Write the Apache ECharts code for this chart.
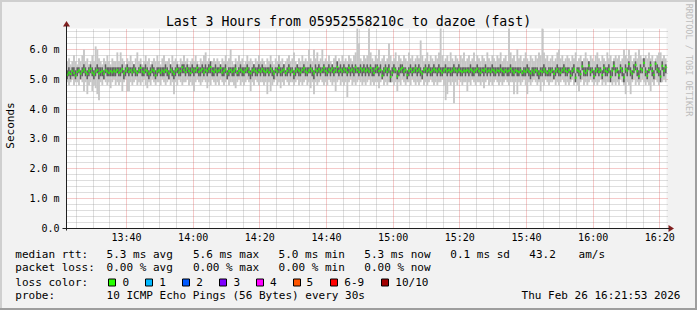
<!DOCTYPE html>
<html><head><meta charset="utf-8">
<script src="https://cdn.jsdelivr.net/npm/echarts@6/dist/echarts.min.js"></script>
<style>html,body{margin:0;padding:0;background:#f2f2f2;}#c{width:697px;height:310px;}</style>
</head><body><div id="c"></div>
<script>
// ---------- data ----------
const titleText = 'Last 3 Hours from 05952558210c to dazoe (fast)';
const startTime = '13:22';
const endTime = '16:22';
const stepMin = 0.5; // 30 s samples
const xTickLabels = ['13:40','14:00','14:20','14:40','15:00','15:20','15:40','16:00','16:20'];
const yTickValues = [0,1,2,3,4,5,6];
const yMax = 6.7;

const medianRtt = [
5.15,5.22,5.18,5.28,5.21,5.12,5.25,5.30,5.19,5.27,5.33,5.24,5.18,5.29,5.35,5.22,5.16,5.26,5.31,5.20,5.24,5.28,5.19,5.30,5.26,5.21,5.27,5.23,5.29,5.25,
5.31,5.22,5.27,5.34,5.20,5.28,5.36,5.25,5.30,5.23,5.33,5.27,5.21,5.30,5.38,5.26,5.22,5.31,5.27,5.19,5.24,5.32,5.28,5.13,5.26,5.30,5.22,5.29,5.25,5.31,
5.27,5.20,5.32,5.25,5.18,5.29,5.34,5.22,5.27,5.40,5.31,5.24,5.36,5.28,5.21,5.33,5.26,5.30,5.38,5.25,5.29,5.34,5.22,5.31,5.27,5.35,5.41,5.28,5.24,5.32,
5.26,5.30,5.37,5.22,5.28,5.33,5.19,5.27,5.31,5.24,5.29,5.35,5.21,5.28,5.32,5.26,5.23,5.30,5.36,5.25,5.20,5.29,5.33,5.27,5.22,5.31,5.26,5.34,5.28,5.24,
5.30,5.23,5.35,5.27,5.19,5.31,5.26,5.38,5.24,5.29,5.33,5.21,5.28,5.36,5.25,5.30,5.18,5.27,5.34,5.29,5.23,5.31,5.37,5.26,5.22,5.30,5.35,5.28,5.20,5.32,
5.27,5.34,5.25,5.31,5.39,5.28,5.22,5.33,5.29,5.36,5.24,5.30,5.41,5.27,5.32,5.26,5.35,5.30,5.23,5.38,5.29,5.33,5.26,5.40,5.31,5.25,5.36,5.29,5.34,5.27,
5.32,5.26,5.38,5.29,5.21,5.34,5.40,5.27,5.31,5.12,5.29,5.36,5.25,5.33,5.08,5.22,5.35,5.30,5.10,5.27,5.33,5.38,5.26,5.31,5.14,5.29,5.34,5.24,5.30,5.37,
5.28,5.33,5.25,5.19,5.31,5.36,5.27,5.32,5.24,5.29,5.35,5.30,5.26,5.33,5.28,5.22,5.30,5.34,5.27,5.31,5.25,5.29,5.36,5.30,5.26,5.32,5.28,5.24,5.30,5.27,
5.31,5.26,5.33,5.29,5.24,5.30,5.35,5.27,5.22,5.31,5.28,5.34,5.26,5.30,5.25,5.32,5.29,5.23,5.30,5.27,5.33,5.28,5.24,5.31,5.26,5.29,5.35,5.27,5.22,5.30,
5.27,5.24,5.30,5.21,5.28,5.25,5.32,5.26,5.20,5.29,5.23,5.31,5.27,5.19,5.28,5.24,5.33,5.26,5.21,5.29,5.25,5.31,5.18,5.27,5.34,5.26,5.22,5.30,5.36,5.28,
5.24,5.31,5.12,5.28,5.35,5.05,5.30,5.26,5.17,5.43,5.27,5.21,5.29,5.46,5.24,5.31,5.10,5.27,5.34,5.25,5.30,5.14,5.38,5.28,5.24,5.33,5.08,5.29,5.45,5.26,
5.31,5.13,5.37,5.28,5.06,5.34,5.29,5.51,5.26,5.19,5.32,5.48,5.27,5.10,5.35,5.30,5.55,5.25,5.12,5.31,5.47,5.28,5.15,5.52,5.33,5.26,5.09,5.45,5.29,5.40
];
const pingMin = [
4.9,4.8,4.9,5.0,4.8,4.9,4.9,4.8,5.0,4.9,4.6,4.9,4.5,4.8,4.9,4.6,4.8,4.7,4.5,4.3,4.9,4.8,5.0,4.9,4.8,4.9,4.7,4.9,5.0,4.8,
4.9,4.8,4.9,4.6,4.9,5.0,4.6,4.6,4.9,4.8,4.9,5.0,4.8,4.9,4.8,4.9,5.0,4.8,4.7,4.9,4.8,5.0,4.9,4.8,4.9,4.9,4.8,5.0,4.9,4.8,
4.9,5.0,4.8,4.9,4.5,4.9,4.8,5.0,4.9,4.8,4.9,4.9,5.0,4.8,4.9,4.8,4.6,4.9,5.0,4.9,4.8,4.9,5.0,4.9,4.7,4.9,4.8,5.0,4.9,4.8,
4.9,4.8,5.0,4.9,4.8,4.9,5.0,4.8,4.9,4.9,4.8,4.7,4.9,5.0,4.8,4.9,4.8,4.9,5.0,4.9,4.6,4.9,4.8,5.0,4.9,4.8,4.9,4.9,4.8,4.9,
4.5,4.9,4.6,4.8,4.9,5.0,4.8,4.9,4.7,4.9,4.8,5.0,4.9,4.8,4.9,4.9,4.8,4.9,5.0,4.8,4.9,4.8,4.9,5.0,4.8,4.9,4.7,4.9,4.5,4.9,
4.8,4.9,5.0,4.9,4.8,4.9,4.8,5.0,4.9,4.8,4.9,4.6,4.9,5.0,4.8,4.9,4.8,4.9,4.4,4.9,5.0,4.8,4.9,4.8,4.9,5.0,4.9,4.8,4.9,4.8,
4.9,5.0,4.8,4.9,4.8,4.9,4.9,4.7,4.9,5.0,4.8,4.9,4.8,4.9,5.0,4.9,4.8,4.9,4.6,4.9,4.8,5.0,4.9,4.8,4.9,4.9,4.8,5.0,4.9,4.8,
4.9,4.8,4.9,5.0,4.8,4.9,4.8,4.9,5.0,4.9,4.8,4.9,4.8,4.9,4.9,5.0,4.8,4.3,4.5,4.9,4.8,4.9,4.2,4.9,4.8,5.0,4.9,4.8,4.9,4.9,
4.6,4.9,4.8,5.0,4.9,4.8,4.9,4.9,4.8,4.9,4.7,4.9,5.0,4.8,4.9,4.8,4.9,5.0,4.9,4.8,4.9,4.8,4.9,5.0,4.9,4.8,4.9,4.9,4.5,4.9,
4.5,4.9,4.8,4.9,5.0,4.8,4.5,4.9,4.8,4.9,5.0,4.9,4.8,4.9,4.6,4.9,4.8,5.0,4.9,4.8,4.9,4.9,5.0,4.8,4.9,4.8,4.9,5.0,4.9,4.8,
4.9,4.8,4.9,5.0,4.8,4.9,4.8,4.6,4.9,5.0,4.8,4.9,4.8,4.9,5.0,4.9,4.8,4.9,4.8,4.9,5.0,4.8,4.9,4.8,4.9,4.9,5.0,4.8,4.9,4.8,
4.9,4.8,5.0,4.9,4.8,4.5,4.9,4.8,4.5,4.9,5.0,4.8,4.9,4.8,4.9,5.0,4.9,4.8,4.9,4.8,4.6,4.9,4.8,5.0,4.9,4.8,4.9,4.9,5.0,4.9
];
const pingLo = [
5.0,5.1,5.0,5.1,5.1,5.0,5.1,5.2,5.0,5.1,5.2,5.1,5.0,5.1,5.2,5.1,5.0,5.1,5.2,5.0,5.1,5.1,5.0,5.2,5.1,5.1,5.1,5.1,5.1,5.1,
5.2,5.1,5.1,5.2,5.0,5.1,5.2,5.1,5.2,5.1,5.2,5.1,5.1,5.2,5.2,5.1,5.1,5.2,5.1,5.0,5.1,5.2,5.1,5.0,5.1,5.2,5.1,5.1,5.1,5.2,
5.1,5.0,5.2,5.1,5.0,5.1,5.2,5.1,5.1,5.2,5.2,5.1,5.2,5.1,5.1,5.2,5.1,5.2,5.2,5.1,5.1,5.2,5.1,5.2,5.1,5.2,5.2,5.1,5.1,5.2,
5.1,5.2,5.2,5.1,5.1,5.2,5.0,5.1,5.2,5.1,5.1,5.2,5.1,5.1,5.2,5.1,5.1,5.2,5.2,5.1,5.0,5.1,5.2,5.1,5.1,5.2,5.1,5.2,5.1,5.1,
5.2,5.1,5.2,5.1,5.0,5.2,5.1,5.2,5.1,5.1,5.2,5.1,5.1,5.2,5.1,5.2,5.0,5.1,5.2,5.1,5.1,5.2,5.2,5.1,5.1,5.2,5.2,5.1,5.0,5.2,
5.1,5.2,5.1,5.2,5.2,5.1,5.1,5.2,5.1,5.2,5.1,5.2,5.2,5.1,5.2,5.1,5.2,5.2,5.1,5.2,5.1,5.2,5.1,5.2,5.2,5.1,5.2,5.1,5.2,5.1,
5.2,5.1,5.2,5.1,5.1,5.2,5.2,5.1,5.2,5.0,5.1,5.2,5.1,5.2,4.9,5.1,5.2,5.2,5.0,5.1,5.2,5.2,5.1,5.2,5.0,5.1,5.2,5.1,5.2,5.2,
5.1,5.2,5.1,5.0,5.2,5.2,5.1,5.2,5.1,5.1,5.2,5.2,5.1,5.2,5.1,5.1,5.2,5.2,5.1,5.2,5.1,5.1,5.2,5.2,5.1,5.2,5.1,5.1,5.2,5.1,
5.2,5.1,5.2,5.1,5.1,5.2,5.2,5.1,5.1,5.2,5.1,5.2,5.1,5.2,5.1,5.2,5.1,5.1,5.2,5.1,5.2,5.1,5.1,5.2,5.1,5.1,5.2,5.1,5.1,5.2,
5.1,5.1,5.2,5.1,5.1,5.1,5.2,5.1,5.0,5.1,5.1,5.2,5.1,5.0,5.1,5.1,5.2,5.1,5.1,5.1,5.1,5.2,5.0,5.1,5.2,5.1,5.1,5.2,5.2,5.1,
5.1,5.2,5.0,5.1,5.2,4.9,5.2,5.1,5.0,5.3,5.1,5.1,5.1,5.3,5.1,5.2,5.0,5.1,5.2,5.1,5.2,5.0,5.2,5.1,5.1,5.2,4.9,5.1,5.3,5.1,
5.2,5.0,5.2,5.1,4.9,5.2,5.1,5.3,5.1,5.0,5.2,5.3,5.1,5.0,5.2,5.2,5.4,5.1,5.0,5.2,5.3,5.1,5.0,5.3,5.2,5.1,4.9,5.3,5.1,5.2
];
const pingHi = [
5.3,5.4,5.3,5.4,5.4,5.3,5.4,5.4,5.3,5.4,5.5,5.4,5.3,5.4,5.5,5.4,5.3,5.4,5.5,5.4,5.4,5.4,5.3,5.5,5.4,5.4,5.4,5.4,5.4,5.4,
5.4,5.4,5.4,5.5,5.3,5.4,5.5,5.4,5.4,5.4,5.5,5.4,5.3,5.4,5.5,5.4,5.4,5.5,5.4,5.3,5.4,5.5,5.4,5.3,5.4,5.4,5.4,5.4,5.4,5.5,
5.4,5.3,5.5,5.4,5.3,5.4,5.5,5.4,5.4,5.5,5.5,5.4,5.5,5.4,5.4,5.5,5.4,5.4,5.5,5.4,5.4,5.5,5.4,5.5,5.4,5.5,5.6,5.4,5.4,5.5,
5.4,5.4,5.5,5.4,5.4,5.5,5.3,5.4,5.4,5.4,5.4,5.5,5.3,5.4,5.5,5.4,5.4,5.4,5.5,5.4,5.3,5.4,5.5,5.4,5.4,5.5,5.4,5.5,5.4,5.4,
5.4,5.4,5.5,5.4,5.3,5.4,5.4,5.5,5.4,5.4,5.5,5.3,5.4,5.5,5.4,5.4,5.3,5.4,5.5,5.4,5.4,5.4,5.5,5.4,5.4,5.4,5.5,5.4,5.3,5.5,
5.4,5.5,5.4,5.4,5.5,5.4,5.4,5.5,5.4,5.5,5.4,5.4,5.6,5.4,5.5,5.4,5.5,5.4,5.4,5.5,5.4,5.5,5.4,5.5,5.4,5.4,5.5,5.4,5.5,5.4,
5.5,5.4,5.5,5.4,5.4,5.5,5.5,5.4,5.5,5.3,5.4,5.5,5.4,5.5,5.3,5.4,5.5,5.4,5.3,5.4,5.5,5.5,5.4,5.4,5.3,5.4,5.5,5.4,5.4,5.5,
5.4,5.5,5.4,5.3,5.4,5.5,5.4,5.5,5.4,5.4,5.5,5.4,5.4,5.5,5.4,5.4,5.4,5.5,5.4,5.4,5.4,5.4,5.5,5.4,5.4,5.5,5.4,5.4,5.4,5.4,
5.4,5.4,5.5,5.4,5.4,5.4,5.5,5.4,5.4,5.4,5.4,5.5,5.4,5.4,5.4,5.5,5.4,5.4,5.4,5.4,5.5,5.4,5.4,5.4,5.4,5.4,5.5,5.4,5.4,5.4,
5.4,5.4,5.4,5.3,5.4,5.4,5.5,5.4,5.3,5.4,5.4,5.4,5.4,5.3,5.4,5.4,5.5,5.4,5.3,5.4,5.4,5.4,5.3,5.4,5.5,5.4,5.4,5.4,5.5,5.4,
5.4,5.4,5.3,5.4,5.5,5.2,5.4,5.4,5.3,5.6,5.4,5.4,5.4,5.6,5.4,5.4,5.3,5.4,5.5,5.4,5.4,5.3,5.5,5.4,5.4,5.5,5.3,5.4,5.6,5.4,
5.4,5.3,5.5,5.4,5.2,5.5,5.4,5.6,5.4,5.3,5.5,5.6,5.4,5.3,5.5,5.4,5.7,5.4,5.3,5.4,5.6,5.4,5.3,5.6,5.5,5.4,5.3,5.6,5.4,5.5
];
const pingMax = [
5.6,5.7,5.5,5.6,5.8,5.6,5.5,5.7,5.6,5.8,6.0,5.6,5.7,5.5,5.6,5.8,5.6,6.1,6.0,5.7,5.6,5.5,5.7,5.6,5.8,5.6,5.5,5.7,5.6,5.6,
5.9,5.6,5.9,5.7,5.6,5.5,5.7,5.6,5.8,5.6,5.5,5.7,5.9,5.6,5.7,5.5,5.6,5.8,5.6,5.7,5.5,5.6,5.7,5.6,5.8,5.6,5.5,5.7,5.8,5.6,
5.6,5.7,5.5,5.8,5.6,5.7,5.6,5.5,5.7,5.6,5.8,5.6,5.7,5.5,5.6,5.7,5.6,5.8,5.6,5.5,5.7,5.6,5.8,5.9,5.6,5.7,5.5,5.6,5.7,5.6,
5.7,5.6,5.5,5.7,5.6,5.8,5.6,5.7,6.0,5.6,5.5,5.7,5.6,5.8,5.6,5.7,5.5,5.6,5.8,5.6,5.7,5.6,5.5,5.7,5.6,5.8,5.6,5.7,5.6,5.5,
5.7,5.6,5.8,5.6,5.5,5.7,5.6,5.8,5.6,5.7,5.5,5.6,5.7,5.8,5.6,5.7,5.9,5.6,5.5,5.7,5.6,5.8,5.6,5.7,5.6,6.0,5.7,5.6,6.0,5.7,
5.9,5.6,5.7,6.0,5.6,5.7,5.6,5.8,5.6,5.5,5.7,5.8,5.6,5.7,5.6,5.8,5.6,5.7,5.6,5.8,5.7,5.6,5.8,5.9,6.7,6.2,5.7,5.6,5.8,5.7,
5.8,6.7,5.9,5.7,5.6,5.8,5.7,6.0,5.6,5.7,5.8,5.6,5.7,6.2,5.8,5.6,5.7,5.9,5.6,5.8,5.7,5.6,5.8,5.7,5.6,5.9,5.7,5.8,5.6,5.7,
5.8,5.7,6.3,5.8,5.6,5.7,5.9,5.6,5.8,5.7,5.6,5.8,5.7,5.9,6.7,5.8,5.6,5.7,5.8,5.6,5.9,5.7,5.6,5.8,5.7,5.6,5.8,5.7,5.9,5.6,
5.7,5.8,5.6,5.7,5.9,5.6,5.8,5.7,5.6,5.8,5.7,5.6,5.9,5.7,5.6,5.8,5.7,5.6,5.8,5.7,5.9,5.6,5.7,5.8,5.6,6.7,5.9,5.7,5.8,5.6,
6.0,5.7,5.8,5.6,5.7,5.9,5.7,5.6,5.8,5.7,5.6,5.8,5.7,5.9,5.8,6.7,5.9,5.7,5.8,5.6,5.7,5.8,5.6,5.7,5.9,6.0,5.7,5.8,5.6,5.7,
5.8,5.7,5.6,5.8,5.7,5.9,5.6,5.7,5.8,5.6,5.7,5.9,5.7,5.6,5.8,5.7,5.6,5.8,5.9,5.7,5.6,5.8,5.7,5.6,5.9,5.7,5.8,5.6,5.7,5.8,
5.7,5.8,5.6,5.7,6.0,5.8,5.7,6.0,5.8,5.6,5.7,5.9,5.7,6.0,5.8,5.7,5.6,5.8,5.7,5.9,5.7,5.8,5.6,5.7,5.8,5.9,5.9,5.7,5.8,5.7
];

// legend texts
const rttLabel = 'median rtt:';
const rttStats = ['5.3 ms avg','5.6 ms max','5.0 ms min','5.3 ms now','0.1 ms sd','43.2','am/s'];
const lossLabel = 'packet loss:';
const lossStats = ['0.00 % avg','0.00 % max','0.00 % min','0.00 % now'];
const lossColorLabel = 'loss color:';
const lossNames = ['0','1','2','3','4','5','6-9','10/10'];
const lossColors = ['#26ff00','#00b8ff','#0059ff','#7e00ff','#ff00ff','#ff5500','#ff0000','#a10000'];
const probeLabel = 'probe:';
const probeText = '10 ICMP Echo Pings (56 Bytes) every 30s';
const dateText = 'Thu Feb 26 16:21:53 2026';
const yAxisTitle = 'Seconds';
const watermark = 'RRDTOOL / TOBI OETIKER';

// ---------- build ----------
const MONO = 'DejaVu Sans Mono';
const toMin = s => { const p = s.split(':').map(Number); return p[0]*60 + p[1]; };
const fmtTime = v => { const h = Math.floor(v/60), m = Math.round(v - h*60); return String(h).padStart(2,'0') + ':' + String(m).padStart(2,'0'); };
const xMin = toMin(startTime), xMax = toMin(endTime);
const xs = medianRtt.map((_, i) => xMin + (i + 0.5) * stepMin);
const smokeData = xs.map((x, i) => [x, Math.min(pingMin[i], pingLo[i]), pingLo[i], pingHi[i], Math.max(pingMax[i], pingHi[i])]);
const medData = xs.map((x, i) => [x, medianRtt[i]]);

// grid line values: [x, y, major(0/1), vertical(0/1)]
const minorLines = [], majorLines = [];
for (let k = 1; k * 0.2 < yMax; k++) {
  const v = +(k * 0.2).toFixed(1);
  (k % 5 === 0 ? majorLines : minorLines).push([xMin, v, k % 5 === 0 ? 1 : 0, 0]);
}
for (let t = Math.ceil(xMin / 5) * 5; t < xMax; t += 5) {
  (t % 20 === 0 ? majorLines : minorLines).push([t, 0, t % 20 === 0 ? 1 : 0, 1]);
}
const gridData = minorLines.concat(majorLines);

const G = { left: 66.5, top: 28.5, width: 600, height: 200 };
const gx0 = G.left, gy0 = G.top + G.height, gx1 = G.left + G.width;

const graphics = [];
graphics.push({ type: 'rect', shape: { x: 0, y: 0, width: 697, height: 2 }, style: { fill: '#cfcfcf' }, silent: true });
graphics.push({ type: 'rect', shape: { x: 0, y: 0, width: 2, height: 310 }, style: { fill: '#cfcfcf' }, silent: true });
graphics.push({ type: 'rect', shape: { x: 0, y: 308, width: 697, height: 2 }, style: { fill: '#9e9e9e' }, silent: true });
graphics.push({ type: 'rect', shape: { x: 695, y: 0, width: 2, height: 310 }, style: { fill: '#9e9e9e' }, silent: true });
graphics.push({ type: 'line', shape: { x1: gx0 - 4, y1: gy0, x2: gx1 + 3, y2: gy0 }, style: { stroke: '#1f1f1f', lineWidth: 1 }, silent: true, z: 50 });
graphics.push({ type: 'line', shape: { x1: gx0, y1: gy0 + 2, x2: gx0, y2: G.top - 3 }, style: { stroke: '#1f1f1f', lineWidth: 1 }, silent: true, z: 50 });
graphics.push({ type: 'polygon', shape: { points: [[gx1 + 2, gy0 - 3.5], [gx1 + 7.5, gy0], [gx1 + 2, gy0 + 3.5]] }, style: { fill: '#801f1f' }, silent: true });
graphics.push({ type: 'polygon', shape: { points: [[gx0 - 3.5, G.top - 2], [gx0, G.top - 7.5], [gx0 + 3.5, G.top - 2]] }, style: { fill: '#801f1f' }, silent: true });
graphics.push({ type: 'text', x: 10.5, y: 125.5, rotation: Math.PI / 2, style: { text: yAxisTitle, font: '11px "' + MONO + '"', fill: '#000', align: 'center', verticalAlign: 'middle' } });
graphics.push({ type: 'text', x: 688.5, y: 60, rotation: -Math.PI / 2, style: { text: watermark, font: '8.5px "' + MONO + '"', fill: '#bdbdbd', align: 'center', verticalAlign: 'middle' } });
const txt = (s, x, y, align) => graphics.push({ type: 'text', x: x, y: y, style: { text: s, font: '11px "' + MONO + '"', fill: '#000', align: align || 'left', verticalAlign: 'middle' } });
const rowY = [254.3, 267.8, 282.3, 295.8];
const colX = [106.6, 193, 278.6, 364.3, 450.3, 529.3, 578.6];
txt(rttLabel, 15.3, rowY[0]);
rttStats.forEach((s, i) => txt(s, colX[i], rowY[0]));
txt(lossLabel, 15.3, rowY[1]);
lossStats.forEach((s, i) => txt(s, colX[i], rowY[1]));
txt(lossColorLabel, 15.3, rowY[2]);
const sqX = [108.5, 145.5, 182.5, 219.5, 256.5, 293.5, 330.5, 381.5];
const lbX = [122.6, 159.3, 196.3, 233.6, 270, 306.6, 344.3, 395.3];
lossNames.forEach((n, i) => {
  graphics.push({ type: 'rect', shape: { x: sqX[i], y: 279, width: 7, height: 7 }, style: { fill: lossColors[i], stroke: '#000', lineWidth: 1 }, silent: true });
  txt(n, lbX[i], rowY[2]);
});
txt(probeLabel, 15.3, rowY[3]);
txt(probeText, 106.6, rowY[3]);
txt(dateText, 680.5, rowY[3], 'right');

const chart = echarts.init(document.getElementById('c'), null, { renderer: 'svg', width: 697, height: 310 });
chart.setOption({
  animation: false,
  backgroundColor: '#f2f2f2',
  title: { text: titleText, left: 'center', top: 10, textStyle: { fontFamily: MONO, fontSize: 13.2, fontWeight: 'normal', color: '#000' } },
  grid: Object.assign({ show: true, backgroundColor: '#ffffff', borderWidth: 0, containLabel: false }, G),
  xAxis: {
    type: 'value', min: xMin, max: xMax,
    axisLine: { show: true, lineStyle: { color: '#1f1f1f', width: 1 } },
    axisTick: { show: false }, splitLine: { show: false },
    axisLabel: { customValues: xTickLabels.map(toMin), formatter: v => fmtTime(v), fontFamily: MONO, fontSize: 10, color: '#000', margin: 4 }
  },
  yAxis: {
    type: 'value', min: 0, max: yMax,
    axisLine: { show: true, lineStyle: { color: '#1f1f1f', width: 1 } },
    axisTick: { show: false }, splitLine: { show: false },
    axisLabel: { customValues: yTickValues, formatter: v => v === 0 ? '0.0' : v.toFixed(1) + ' m', fontFamily: MONO, fontSize: 10, color: '#000', margin: 7 }
  },
  series: [
    { type: 'custom', z: 1, silent: true, data: gridData, encode: { x: 0, y: 1 },
      renderItem: function (params, api) {
        const cs = params.coordSys;
        const major = api.value(2) === 1, vertical = api.value(3) === 1;
        const p = api.coord([api.value(0), api.value(1)]);
        const stroke = major ? 'rgba(222,79,79,0.6)' : 'rgba(143,143,143,0.6)';
        let shape;
        if (vertical) { const x = Math.floor(p[0]) + 0.5; shape = { x1: x, y1: cs.y + cs.height, x2: x, y2: cs.y }; }
        else { const y = Math.floor(p[1]) + 0.5; shape = { x1: cs.x, y1: y, x2: cs.x + cs.width + 1, y2: y }; }
        return { type: 'line', shape: shape, style: { stroke: stroke, lineWidth: 1, lineDash: [1, 1] } };
      } },
    { type: 'custom', z: 2, silent: true, data: smokeData,
      encode: { x: 0, y: [1, 2, 3, 4] },
      renderItem: function (params, api) {
        const x = api.value(0);
        const w = api.size([stepMin, 0])[0] + 0.2;
        const pMin = api.coord([x, api.value(1)]);
        const pLo = api.coord([x, api.value(2)]);
        const pHi = api.coord([x, api.value(3)]);
        const pMax = api.coord([x, api.value(4)]);
        return { type: 'group', children: [
          { type: 'rect', shape: { x: pMin[0] - w / 2, y: pMax[1], width: w, height: pMin[1] - pMax[1] }, style: { fill: '#c6c6c6' } },
          { type: 'rect', shape: { x: pMin[0] - w / 2, y: pHi[1], width: w, height: pLo[1] - pHi[1] }, style: { fill: '#606060' } }
        ] };
      } },
    { type: 'scatter', z: 3, silent: true, data: medData, symbol: 'rect', symbolSize: [1.8, 2.2], itemStyle: { color: lossColors[0] } }
  ],
  graphic: graphics
});
</script>
</body></html>
